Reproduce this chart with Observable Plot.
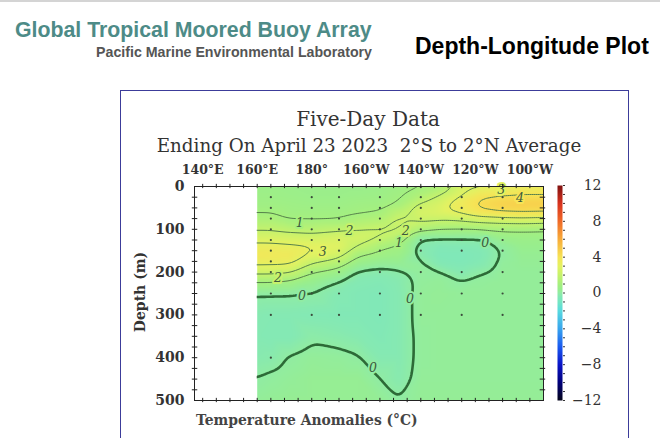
<!DOCTYPE html>
<html><head><meta charset="utf-8">
<script src="https://cdn.jsdelivr.net/npm/d3@7"></script>
<script src="https://cdn.jsdelivr.net/npm/@observablehq/plot@0.6"></script>
<style>
body{margin:0;background:#fff;}
#page{position:relative;width:660px;height:438px;overflow:hidden;background:#fff;}
.abs{position:absolute;white-space:pre;line-height:1;}
#topline{position:absolute;left:0;top:0;width:660px;height:2px;background:#d4d4d4;}
#h1{left:15px;top:18px;font:bold 21.3px "Liberation Sans",Arial,sans-serif;color:#4d8b87;}
#h2{right:288px;top:44px;font:bold 14.2px "Liberation Sans",Arial,sans-serif;color:#555;}
#h3{left:415px;top:33px;font:bold 23px "Liberation Sans",Arial,sans-serif;color:#000;}
#box{position:absolute;left:120px;top:90px;width:507px;height:400px;border:1.5px solid #3c3c9a;}
#t1{left:0;width:736px;text-align:center;top:106.5px;font:20px "DejaVu Serif",serif;color:#333;}
#t2{left:0;width:738px;text-align:center;top:134.5px;font:18.3px "DejaVu Serif",serif;color:#333;}
#ylab{left:140px;top:292px;font:bold 14px "DejaVu Serif",serif;color:#333;transform:translate(-50%,-50%) rotate(-90deg);}
#xlab{left:196px;top:411.5px;font:bold 13.9px "DejaVu Serif",serif;color:#444;}
#main{position:absolute;left:121px;top:91px;}
#cbar{position:absolute;left:545px;top:175px;}
</style></head><body>
<div id="page">
 <div id="topline"></div>
 <div class="abs" id="h1">Global Tropical Moored Buoy Array</div>
 <div class="abs" id="h2">Pacific Marine Environmental Laboratory</div>
 <div class="abs" id="h3">Depth-Longitude Plot</div>
 <div id="box"></div>
 <div class="abs" id="t1">Five-Day Data</div>
 <div class="abs" id="t2">Ending On April 23 2023  2°S to 2°N Average</div>
 <div class="abs" id="ylab">Depth (m)</div>
 <div class="abs" id="xlab">Temperature Anomalies (°C)</div>
 <div id="main"></div>
 <div id="cbar"></div>
</div>
<script>
// ---- data ----
const depths = [0,20,40,60,80,100,120,140,160,180,200,220,250,300,350,400,450,500];
const lons = [160,165,172,180,190,197,205,212,220,227,235,242,250,257,265];
const anom160 = [0.6,0.65,0.75,0.95,1.3,1.9,2.6,3.3,3.8,3.2,2.3,1.1,0.0,-0.3,-0.35,-0.25,0.02,0.2];
const anom165 = [0.6,0.65,0.75,0.95,1.3,1.9,2.6,3.3,3.7,3.2,2.3,1.1,0.0,-0.35,-0.4,-0.2,0.1,0.25];
const anom172 = [0.55,0.6,0.7,0.8,0.97,1.7,2.5,3.2,3.6,3.2,2.1,0.9,0.0,-0.35,-0.4,0.05,0.2,0.3];
const anom180 = [0.5,0.55,0.65,0.8,0.97,1.6,2.4,3.1,2.95,2.0,1.0,0.45,-0.03,-0.4,-0.1,0.2,0.3,0.3];
const anom190 = [0.5,0.55,0.65,0.8,1.0,1.85,2.6,2.9,2.4,1.4,0.6,0.0,-0.35,-0.45,-0.2,0.15,0.3,0.3];
const anom197 = [0.5,0.6,0.75,0.9,1.3,1.95,2.5,1.95,1.05,0.5,-0.1,-0.35,-0.45,-0.45,-0.3,0.05,0.3,0.3];
const anom205 = [0.55,0.65,0.8,1.0,1.5,2.15,2.05,1.2,0.75,0.25,-0.2,-0.4,-0.5,-0.5,-0.45,-0.3,0.0,0.25];
const anom212 = [0.7,0.85,1.0,1.7,2.3,2.05,1.5,0.85,0.6,0.3,-0.1,-0.25,-0.3,-0.3,-0.3,-0.3,-0.25,0.02];
const anom220 = [0.95,1.3,2.1,2.6,2.2,1.3,-0.02,-0.3,-0.2,0.1,0.15,0.15,0.2,0.2,0.15,0.15,0.2,0.25];
const anom227 = [1.2,2.0,2.6,2.8,2.0,1.0,-0.02,-0.45,-0.55,-0.4,0.05,0.2,0.25,0.2,0.2,0.2,0.2,0.25];
const anom235 = [2.6,2.9,3.7,3.3,1.97,0.95,-0.02,-0.4,-0.55,-0.5,-0.3,0.0,0.2,0.2,0.2,0.2,0.2,0.25];
const anom242 = [2.8,3.8,4.35,3.9,2.2,1.0,-0.02,-0.35,-0.45,-0.35,-0.05,0.15,0.2,0.2,0.2,0.2,0.2,0.25];
const anom250 = [3.05,4.0,4.7,4.15,2.3,1.1,0.5,0.1,0.05,0.15,0.2,0.2,0.2,0.2,0.2,0.2,0.2,0.25];
const anom257 = [3.3,4.05,4.8,4.2,2.4,1.05,0.6,0.4,0.3,0.25,0.2,0.2,0.2,0.2,0.2,0.2,0.2,0.25];
const anom265 = [3.3,4.05,4.8,4.15,2.3,1.0,0.6,0.4,0.3,0.25,0.2,0.2,0.2,0.2,0.2,0.2,0.2,0.25];
const profiles = [anom160,anom165,anom172,anom180,anom190,anom197,anom205,anom212,anom220,anom227,anom235,anom242,anom250,anom257,anom265];

const buoyLons = [165,180,190,205,220,235,250];
const buoyDepths = [
  [25,50,75,100,125,150,175,200,250,300,400],
  [25,50,75,100,125,150,200,250,300],
  [25,50,75,100,125,150,175,200,250,300],
  [25,50,75,100,125,150,200,250,300],
  [1,25,50,75,100,125,150,200,250,300],
  [25,50,75,100,125,150,200,250,300],
  [1,25,50,75,100,125,150,200,250,300]
];

const labelLons   = [175.6,193.8,184,167.6,176.4,214.5,212,216,202.5,243.6,249.5,256.4];
const labelDepths = [86,103,152,213,255,103,131,262,425,133,9,28];
const labelLevels = [1,2,3,2,0,2,1,0,0,0,3,4];

const lonTickVals = [140,160,180,200,220,240,260];
const lonTickText = ["140°E","160°E","180°","160°W","140°W","120°W","100°W"];
const depthTickVals = [0,100,200,300,400,500];
const cbTickVals = [-12,-8,-4,0,4,8,12];
const cbTickText = ["\u221212","\u22128","\u22124","0","4","8","12"];
const cbStops  = [-12,-10,-8,-6,-4,-2,-1,-0.3,0,0.4,1,2,3,4,6,8,10,12];
const cbColors = ["#05051a","#00007a","#0a14c8","#1a5af0","#38a4ee","#58dae0","#74e6c4","#86e9b2","#90eca4","#98ee8e","#a6f07e","#c6f26c","#e4f262","#f6e456","#f8ac3a","#f06a28","#d8321e","#801010"];
const dataStartLon = 160;

// ---- build tables ----
const grid = [];
lons.forEach((lon, i) => depths.forEach((d, j) => grid.push({lon, depth: d, v: profiles[i][j]})));
// edge-replicated copy so contour lines do not trace the data border
const padLons = [lons[0] - 12, ...lons, lons[lons.length - 1] + 12];
const padDepths = [depths[0] - 25, ...depths, depths[depths.length - 1] + 25];
const gridPad = [];
padLons.forEach((lon, i) => {
  const pi = Math.min(Math.max(i - 1, 0), lons.length - 1);
  padDepths.forEach((d, j) => {
    const pj = Math.min(Math.max(j - 1, 0), depths.length - 1);
    gridPad.push({lon, depth: d, v: profiles[pi][pj]});
  });
});
const buoyPts = [];
buoyLons.forEach((lon, i) => buoyDepths[i].forEach(d => buoyPts.push({lon, depth: d})));
const labels = labelLons.map((lon, i) => ({lon, depth: labelDepths[i], lvl: labelLevels[i], t: String(labelLevels[i])}));
const noData = [{from: 137, to: dataStartLon, top: 0, bottom: 500}];
const minorLon = d3.range(140, 265, 5);
const minorDepth = d3.range(25, 500, 25);

const colorOpts = {type: "linear", domain: cbStops, range: cbColors, clamp: true};
const baseStyle = {fontFamily: "'DejaVu Serif', serif", color: "#333", background: "transparent", overflow: "visible"};
const cont = {x: "lon", y: "depth", value: "v", interpolate: "barycentric", x1: 150, x2: 272, y1: -12, y2: 512, fill: "none", blur: 2, clip: "frame"};

const main = Plot.plot({
  width: 508, height: 347,
  marginLeft: 73, marginTop: 95, marginRight: 86, marginBottom: 38,
  x: {domain: [137, 265]},
  y: {domain: [0, 500], reverse: true},
  color: colorOpts,
  style: baseStyle,
  marks: [
    Plot.raster(gridPad, {x: "lon", y: "depth", fill: "v", interpolate: "barycentric", x1: dataStartLon, x2: 265, y1: 0, y2: 500, pixelSize: 1, blur: 2}),
    Plot.contour(gridPad, {...cont, thresholds: [1,2,3,4], stroke: "#557f4b", strokeWidth: 1}),
    Plot.contour(gridPad, {...cont, thresholds: [0], stroke: "#2d6a37", strokeWidth: 2.6}),
    Plot.rect(noData, {x1: "from", x2: "to", y1: "top", y2: "bottom", fill: "white"}),
    Plot.dot(buoyPts, {x: "lon", y: "depth", r: 1.1, fill: "#3b4b3b", stroke: null}),
    Plot.text(labels, {x: "lon", y: "depth", text: "t", fill: "#3d5a3d", stroke: "lvl", strokeWidth: 4, fontSize: 12.5, fontStyle: "italic"}),
    Plot.ruleX(minorLon, {x: d => d, y1: -5, y2: 5, stroke: "#222"}),
    Plot.ruleX(minorLon, {x: d => d, y1: 495, y2: 505, stroke: "#222"}),
    Plot.ruleY(minorDepth, {y: d => d, x1: 136.2, x2: 138.2, stroke: "#222"}),
    Plot.ruleY(minorDepth, {y: d => d, x1: 263.8, x2: 265.8, stroke: "#222"}),
    Plot.frame({stroke: "#222"}),
    Plot.axisX({anchor: "top", ticks: lonTickVals, tickFormat: d => lonTickText[lonTickVals.indexOf(d)], tickSize: 0, tickPadding: 13, fontSize: 12.5, fontWeight: "bold", label: null}),
    Plot.axisY({anchor: "left", ticks: depthTickVals, tickSize: 0, tickPadding: 10, fontSize: 14, fontWeight: "bold", label: null})
  ]
});
document.getElementById("main").append(main);

const cb = Plot.plot({
  width: 70, height: 240,
  marginLeft: 12, marginRight: 53, marginTop: 10, marginBottom: 15,
  x: {domain: [0, 1], axis: null},
  y: {domain: [-12, 12]},
  color: colorOpts,
  style: baseStyle,
  marks: [
    Plot.raster({fill: (x, y) => y, x1: 0, x2: 1, y1: -12, y2: 12, pixelSize: 1}),
    Plot.axisY({anchor: "right", ticks: d3.range(-12, 13), tickSize: 2, tickPadding: 37, textAnchor: "end",
      tickFormat: d => { const k = cbTickVals.indexOf(d); return k < 0 ? "" : cbTickText[k]; },
      fontSize: 14, label: null})
  ]
});
document.getElementById("cbar").append(cb);
</script>
</body></html>
